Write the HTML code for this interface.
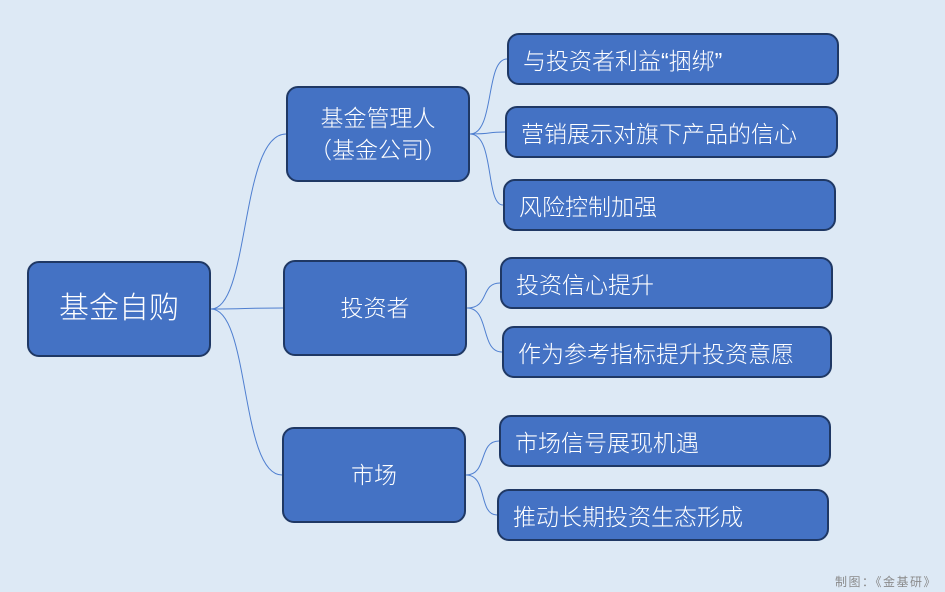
<!DOCTYPE html>
<html><head><meta charset="utf-8"><style>
body{margin:0;width:945px;height:592px;background:#dde9f5;overflow:hidden;position:relative;font-family:"Liberation Sans","Noto Sans CJK SC",sans-serif}
.b{position:absolute;box-sizing:border-box;background:#4472c4;border:2px solid #1f3864;border-radius:12px;color:#fff;display:flex;align-items:center;font-weight:300}
.n{justify-content:center;text-align:center;font-size:23px;line-height:32px}
.l{font-size:23px;padding-left:14px}
svg{position:absolute;left:0;top:0}
</style></head><body>
<svg width="945" height="592"><g fill="none" stroke="#4f7fd0" stroke-width="1">
<path d="M211 309 C250 309 240 134 286 134"/>
<path d="M211 309 C250 309 240 308 283 308"/>
<path d="M211 309 C250 309 240 475 282 475"/>
<path d="M470 134 C495 134 485 59 507 59"/>
<path d="M470 134 C495 134 485 132 505 132"/>
<path d="M470 134 C495 134 485 205 503 205"/>
<path d="M467 308 C490 308 480 283 500 283"/>
<path d="M467 308 C490 308 480 352 502 352"/>
<path d="M466 475 C488 475 478 441 499 441"/>
<path d="M466 475 C488 475 478 515 497 515"/>
</g></svg>
<div class="b n" style="left:27px;top:261px;width:184px;height:96px;font-size:30px">基金自购</div>
<div class="b n" style="left:286px;top:86px;width:184px;height:96px">基金管理人<br>（基金公司）</div>
<div class="b n" style="left:283px;top:260px;width:184px;height:96px">投资者</div>
<div class="b n" style="left:282px;top:427px;width:184px;height:96px">市场</div>
<div class="b l" style="left:507px;top:33px;width:332px;height:52px">与投资者利益“捆绑”</div>
<div class="b l" style="left:505px;top:106px;width:333px;height:52px">营销展示对旗下产品的信心</div>
<div class="b l" style="left:503px;top:179px;width:333px;height:52px">风险控制加强</div>
<div class="b l" style="left:500px;top:257px;width:333px;height:52px">投资信心提升</div>
<div class="b l" style="left:502px;top:326px;width:330px;height:52px">作为参考指标提升投资意愿</div>
<div class="b l" style="left:499px;top:415px;width:332px;height:52px">市场信号展现机遇</div>
<div class="b l" style="left:497px;top:489px;width:332px;height:52px">推动长期投资生态形成</div>
<div style="position:absolute;left:835px;top:573px;font-size:12px;color:#8a8a8a;letter-spacing:1.5px">制图：《金基研》</div>
</body></html>
